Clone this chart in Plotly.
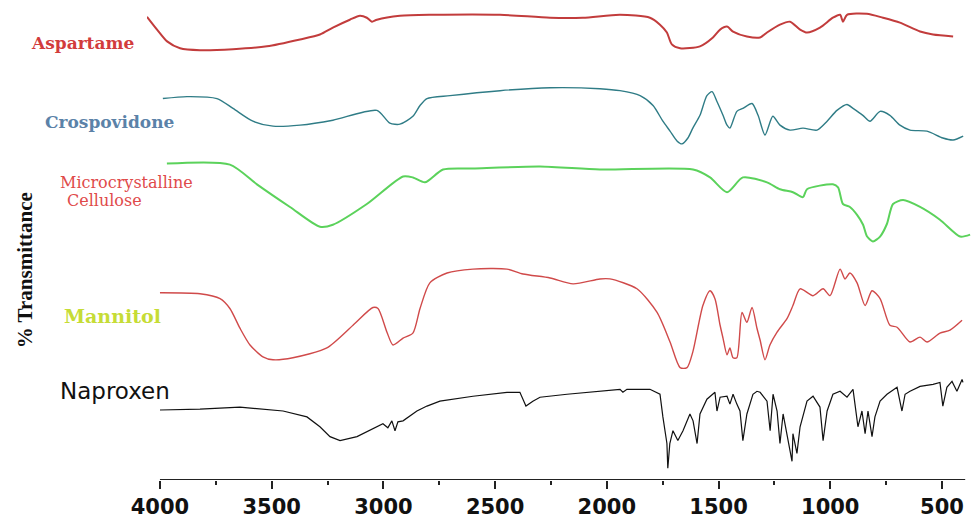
import plotly.graph_objects as go

# Wavenumber (cm-1) and stacked %T values
asp_wn = [4058, 4013, 3968, 3910, 3821, 3673, 3521, 3373, 3284, 3226, 3150, 3105, 3074, 3051, 3029, 2926, 2778, 2478, 2254, 2107, 1941, 1807, 1762, 1731, 1709, 1672, 1583, 1525, 1493, 1462, 1435, 1373, 1314, 1283, 1225, 1180, 1135, 1104, 1046, 988, 956, 943, 925, 836, 764, 688, 598, 540, 450]
asp_t = [470, 457, 445, 438, 436, 437, 440, 447, 452, 459, 467, 471, 469, 465, 467, 471, 472, 472, 469, 469, 472, 469, 462, 454, 442, 438, 440, 449, 457, 460, 455, 450, 449, 454, 462, 465, 457, 454, 459, 469, 472, 465, 472, 473, 469, 464, 455, 452, 450]

cro_wn = [3987, 3879, 3745, 3673, 3584, 3494, 3373, 3226, 3029, 2971, 2926, 2868, 2836, 2805, 2702, 2478, 2254, 2031, 1941, 1851, 1793, 1749, 1717, 1686, 1664, 1637, 1615, 1583, 1552, 1529, 1507, 1480, 1462, 1449, 1418, 1391, 1350, 1323, 1292, 1257, 1225, 1180, 1122, 1059, 1014, 970, 925, 898, 854, 822, 777, 733, 688, 643, 567, 496, 450, 405]
cro_t = [387, 389, 387, 377, 364, 359, 360, 365, 375, 362, 361, 369, 380, 387, 390, 395, 398, 397, 395, 390, 380, 364, 354, 344, 341, 347, 357, 370, 390, 394, 384, 370, 360, 357, 374, 377, 382, 370, 350, 369, 360, 355, 357, 355, 364, 375, 381, 377, 370, 364, 374, 370, 360, 355, 354, 347, 345, 349]

mcc_wn = [3969, 3687, 3566, 3418, 3284, 3226, 3074, 2912, 2868, 2814, 2733, 2599, 2299, 2031, 1614, 1538, 1462, 1391, 1283, 1225, 1167, 1122, 1104, 988, 965, 943, 912, 880, 853, 835, 809, 777, 746, 719, 674, 598, 509, 419, 374]
mcc_t = [321, 320, 300, 277, 257, 259, 280, 308, 307, 302, 315, 316, 318, 315, 315, 307, 292, 307, 302, 295, 292, 287, 295, 300, 297, 280, 277, 269, 259, 247, 242, 247, 260, 280, 284, 277, 264, 247, 249]

man_wn = [4000, 3821, 3731, 3687, 3642, 3597, 3539, 3494, 3405, 3253, 3136, 3047, 3024, 2984, 2957, 2912, 2868, 2836, 2792, 2715, 2599, 2447, 2375, 2254, 2151, 2031, 1986, 1865, 1775, 1717, 1672, 1641, 1615, 1570, 1538, 1516, 1493, 1480, 1462, 1449, 1435, 1418, 1395, 1373, 1350, 1328, 1314, 1292, 1270, 1238, 1193, 1167, 1135, 1077, 1032, 1001, 956, 934, 912, 880, 844, 813, 777, 733, 701, 643, 598, 567, 509, 464, 410]
man_t = [190, 189, 184, 174, 154, 137, 125, 122, 124, 134, 157, 175, 174, 150, 137, 144, 149, 174, 200, 210, 214, 214, 209, 205, 199, 204, 204, 194, 170, 140, 114, 114, 130, 177, 192, 184, 157, 144, 127, 134, 124, 124, 170, 160, 175, 154, 142, 122, 137, 150, 164, 177, 194, 187, 194, 187, 214, 204, 210, 200, 177, 192, 184, 157, 155, 140, 145, 140, 149, 152, 162]

nap_wn = [4000, 3821, 3642, 3449, 3342, 3284, 3239, 3194, 3118, 3047, 3002, 2980, 2962, 2948, 2935, 2912, 2850, 2805, 2747, 2599, 2447, 2389, 2362, 2331, 2299, 2178, 2031, 1941, 1928, 1910, 1807, 1762, 1749, 1731, 1727, 1718, 1704, 1682, 1659, 1628, 1614, 1596, 1583, 1552, 1516, 1507, 1493, 1462, 1449, 1435, 1418, 1404, 1391, 1373, 1346, 1328, 1314, 1283, 1269, 1256, 1238, 1225, 1211, 1193, 1180, 1171, 1167, 1149, 1135, 1104, 1077, 1046, 1032, 1014, 988, 956, 925, 898, 876, 858, 844, 831, 813, 800, 777, 746, 701, 679, 665, 643, 598, 540, 509, 496, 478, 455, 433, 410, 406]
nap_t = [71, 72, 74, 70, 64, 54, 44, 40, 44, 52, 57, 53, 60, 50, 59, 60, 70, 75, 80, 85, 89, 89, 75, 80, 84, 87, 90, 92, 89, 92, 92, 87, 64, 37, 12, 37, 50, 40, 50, 67, 60, 37, 67, 82, 89, 70, 84, 85, 77, 87, 77, 70, 40, 67, 87, 90, 89, 80, 50, 87, 70, 37, 67, 47, 30, 19, 47, 27, 54, 80, 85, 74, 40, 70, 87, 90, 84, 92, 54, 70, 47, 70, 44, 64, 80, 87, 94, 70, 87, 90, 95, 97, 99, 75, 94, 100, 90, 102, 99]

tick_vals = [4000, 3500, 3000, 2500, 2000, 1500, 1000, 500]
tick_text = ["4000", "3500", "3000", "2500", "2000", "1500", "1000", "500"]

series = [
    ("Aspartame", asp_wn, asp_t, "#c23c3c", 2.0, "spline"),
    ("Crospovidone", cro_wn, cro_t, "#2f7c86", 1.4, "spline"),
    ("Microcrystalline Cellulose", mcc_wn, mcc_t, "#5bd25b", 2.0, "spline"),
    ("Mannitol", man_wn, man_t, "#d04a4a", 1.4, "spline"),
    ("Naproxen", nap_wn, nap_t, "#111111", 1.2, "linear"),
]

fig = go.Figure()
for name, wn, t, col, w, shp in series:
    line = dict(color=col, width=w, shape=shp)
    if shp == "spline":
        line["smoothing"] = 0.7
    fig.add_trace(go.Scatter(x=wn, y=t, mode="lines", name=name,
                             line=line, showlegend=False))

W0, W1 = 4058, 370
fig.update_layout(
    width=971, height=519,
    margin=dict(l=147, r=0, t=0, b=32),
    paper_bgcolor="white", plot_bgcolor="white",
    xaxis=dict(range=[W0, W1], showgrid=False, zeroline=False, showline=False,
               tickvals=tick_vals, ticktext=tick_text, ticks="outside",
               ticklen=8, tickwidth=2, tickcolor="#222",
               tickfont=dict(family="DejaVu Sans", size=21, color="#111", weight="bold"),
               minor=dict(tickvals=[3750, 3250, 2750, 2250, 1750, 1250, 750],
                          ticks="outside", ticklen=4, tickwidth=2, tickcolor="#222")),
    yaxis=dict(range=[0, 487], showgrid=False, zeroline=False, showline=False,
               showticklabels=False, ticks=""),
)

# bottom axis line from 4000 to the end of the scan
fig.add_shape(type="line", xref="x", yref="y", x0=4000, x1=396, y0=0, y1=0,
              line=dict(color="#222", width=2))

labels = [
    ("<b>Aspartame</b>", -0.1432, 443, "#d23c3c", "DejaVu Serif", 17),
    ("<b>Crospovidone</b>", -0.1262, 363, "#5b82a8", "DejaVu Serif", 17),
    ("Microcrystalline", -0.1080, 302, "#e04a4a", "DejaVu Serif", 16),
    ("Cellulose", -0.0995, 284, "#e04a4a", "DejaVu Serif", 16),
    ("<b>Mannitol</b>", -0.1032, 166, "#c6dc36", "DejaVu Serif", 19),
    ("Naproxen", -0.1080, 90, "#111111", "DejaVu Sans", 23),
]
for txt, xp, yv, col, fam, sz in labels:
    fig.add_annotation(text=txt, xref="paper", x=xp, yref="y", y=yv,
                       xanchor="left", yanchor="middle", showarrow=False,
                       font=dict(family=fam, size=sz, color=col))

fig.add_annotation(text="<b>% Transmittance</b>", xref="paper", x=-0.148, yref="paper", y=0.437,
                   xanchor="center", yanchor="middle", textangle=-90, showarrow=False,
                   font=dict(family="Liberation Serif", size=21, color="#111"))

fig.write_html("out.html")
